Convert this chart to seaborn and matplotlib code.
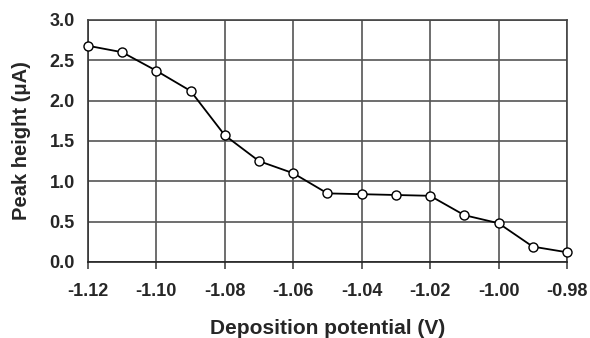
import matplotlib
matplotlib.use("Agg")
import matplotlib.pyplot as plt
import seaborn as sns
import pandas as pd

potential = [-1.12, -1.11, -1.10, -1.09, -1.08, -1.07, -1.06, -1.05, -1.04, -1.03, -1.02, -1.01, -1.00, -0.99, -0.98]
peak = [2.68, 2.60, 2.37, 2.12, 1.57, 1.25, 1.10, 0.85, 0.84, 0.83, 0.82, 0.58, 0.48, 0.19, 0.12]
xticks = [-1.12, -1.10, -1.08, -1.06, -1.04, -1.02, -1.00, -0.98]
yticks = [0.0, 0.5, 1.0, 1.5, 2.0, 2.5, 3.0]

sns.set_style("white")
plt.rcParams['font.family'] = ['Liberation Sans', 'DejaVu Sans']

df = pd.DataFrame({"x": potential, "y": peak})
fig, ax = plt.subplots(figsize=(5.9, 3.38), dpi=100)
fig.subplots_adjust(left=0.149, right=0.961, top=0.941, bottom=0.225)

sns.lineplot(data=df, x="x", y="y", ax=ax, color="black", lw=1.3,
             marker="o", markersize=6.5, markerfacecolor="white",
             markeredgecolor="black", markeredgewidth=1.0, zorder=5, clip_on=False)

ax.set_xlim(-1.12, -0.98)
ax.set_ylim(0, 3.0)
ax.set_xticks(xticks)
ax.set_xticklabels([f"{v:.2f}" for v in xticks])
ax.set_yticks(yticks)
ax.set_yticklabels([f"{v:.1f}" for v in yticks])
ax.grid(True, color="#555555", lw=1.2)
ax.set_axisbelow(True)
for s in ax.spines.values():
    s.set_color("#444444")
    s.set_linewidth(1.2)
ax.spines["left"].set_color("#333333")
ax.spines["bottom"].set_color("#222222")
ax.tick_params(axis="x", which="both", bottom=True, length=5, width=1.2, color="#444444", pad=10)
ax.tick_params(axis="y", left=False, pad=6)
for lab in ax.get_xticklabels() + ax.get_yticklabels():
    lab.set_fontweight("bold")
    lab.set_fontsize(13)
ax.set_xlabel("Deposition potential (V)", fontsize=15, fontweight="bold", labelpad=14)
ax.set_ylabel("Peak height (μA)", fontsize=14.5, fontweight="bold", labelpad=13)

fig.savefig("out.png", dpi=100)
